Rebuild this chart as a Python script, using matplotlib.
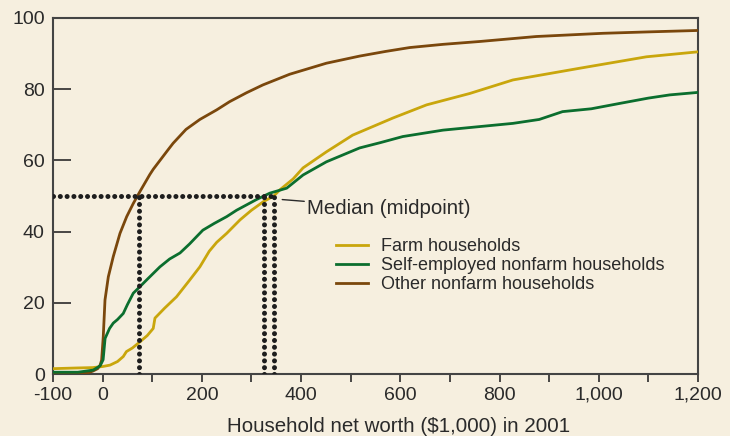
import matplotlib
matplotlib.use("Agg")
import matplotlib.pyplot as plt
from matplotlib.ticker import FixedLocator, FixedFormatter

plt.rcParams['font.family'] = ['Liberation Sans', 'DejaVu Sans']

# ---- data ----
other_x = [-100, -50, -30, -20, -10, -5, -2, 1.3, 4.8, 11.5, 21.5, 35, 48.5, 61.8, 75, 95,
           102, 132, 142, 168, 196, 230, 256, 290, 323, 377, 451, 518, 570, 619, 686, 760,
           874, 1008, 1100, 1200]
other_y = [0, 0, 0.3, 0.8, 1.5, 2.5, 3.9, 10.5, 20.8, 27.3, 33, 39.5, 44.2, 47.9, 51.2, 56,
           57.5, 63, 64.8, 68.7, 71.5, 74.2, 76.5, 79, 81.2, 84.2, 87.3, 89.3, 90.6, 91.7, 92.6,
           93.4, 94.8, 95.7, 96.1, 96.5]

farm_x = [-100, -50, -20, 0, 15, 30, 41.6, 48, 60, 75, 90, 102, 105.5, 125, 149, 175, 196,
          215, 230, 250, 277, 300, 325, 337, 345, 357, 384, 404, 451, 504, 585, 653, 740, 827,
          962, 1096, 1200]
farm_y = [1.5, 1.7, 1.8, 2.1, 2.5, 3.5, 4.9, 6.3, 7.3, 9.0, 10.8, 12.8, 15.7, 18.5, 21.7,
          26.3, 30.1, 34.5, 37, 39.5, 43.3, 46, 48.5, 49.4, 50, 51.7, 54.8, 57.9, 62.4, 67.1,
          71.9, 75.6, 78.8, 82.6, 85.9, 89.1, 90.5]

self_x = [-100, -50, -19, -5, 1, 5, 14, 21.5, 30, 41.6, 50, 61.8, 75, 90, 115.5, 135, 156,
          175, 189.5, 202, 225, 250, 270, 290, 310, 325, 337, 371, 404, 451, 518, 560, 605,
          686, 760, 827, 880, 927, 985, 1042, 1100, 1143, 1200]
self_y = [0.5, 0.5, 1.1, 2.3, 4, 10, 12.8, 14.3, 15.3, 17, 19.5, 22.7, 24.5, 26.6, 30.1,
          32.3, 34, 36.5, 38.6, 40.4, 42.3, 44.2, 46, 47.5, 49, 50, 50.8, 52.2, 55.9, 59.6,
          63.5, 65, 66.7, 68.5, 69.5, 70.4, 71.5, 73.7, 74.5, 76, 77.5, 78.4, 79.1]

medians = [73, 325, 345]
median_level = 50
labels = ["Farm households", "Self-employed nonfarm households", "Other nonfarm households"]
xticks = list(range(-100, 1201, 100))
xticklabels = ["-100", "0", "", "200", "", "400", "", "600", "", "800", "", "1,000", "", "1,200"]
yticks = [0, 20, 40, 60, 80, 100]

# ---- style ----
bg = "#F6EFDF"
c_farm = "#C9A60C"
c_self = "#0B6E2E"
c_other = "#7A470C"
dark = "#2A2A2A"

fig = plt.figure(figsize=(7.30, 4.36), dpi=100, facecolor=bg)
ax = fig.add_axes([53/730, (436-374)/436, (698-53)/730, (374-18)/436])
ax.set_facecolor(bg)

ax.plot(farm_x, farm_y, color=c_farm, lw=2.0, label=labels[0], zorder=3)
ax.plot(self_x, self_y, color=c_self, lw=2.0, label=labels[1], zorder=4)
ax.plot(other_x, other_y, color=c_other, lw=2.0, label=labels[2], zorder=3)

dot = dict(color="#1E1E1E", lw=3.6, linestyle=(0, (0.01, 1.35)), dash_capstyle='round', zorder=5)
ax.plot([-100, max(medians)], [median_level, median_level], **dot)
for m in medians:
    ax.plot([m, m], [0, median_level], **dot)

ax.annotate("Median (midpoint)", xy=(362, 49), xytext=(412, 46.6),
            fontsize=14.8, color=dark, va='center', ha='left',
            arrowprops=dict(arrowstyle='-', color=dark, lw=1.0, shrinkA=0, shrinkB=0))

ax.set_xlim(-100, 1200)
ax.set_ylim(0, 100)
ax.xaxis.set_major_locator(FixedLocator(xticks))
ax.xaxis.set_major_formatter(FixedFormatter(xticklabels))
ax.set_yticks(yticks)
ax.set_yticklabels([str(v) for v in yticks])
ax.tick_params(axis='x', direction='out', length=6, width=1.2, color=dark,
               labelsize=14, labelcolor=dark, pad=3)
ax.tick_params(axis='y', direction='in', length=13, width=1.2, color=dark,
               labelsize=14, labelcolor=dark, pad=6)
for s in ax.spines.values():
    s.set_color("#444444")
    s.set_linewidth(1.5)

leg = ax.legend(loc='upper left', bbox_to_anchor=((336-53)/645, (374-238)/356),
                frameon=False, fontsize=13, handlelength=1.75, handletextpad=0.75,
                labelspacing=0.12, borderpad=0, borderaxespad=0)
for t in leg.get_texts():
    t.set_color(dark)

fig.text(398.7/730, 1 - 426/436, "Household net worth ($1,000) in 2001", fontsize=14.8,
         color=dark, ha='center', va='center')

fig.savefig("out.png", dpi=100, facecolor=bg)
